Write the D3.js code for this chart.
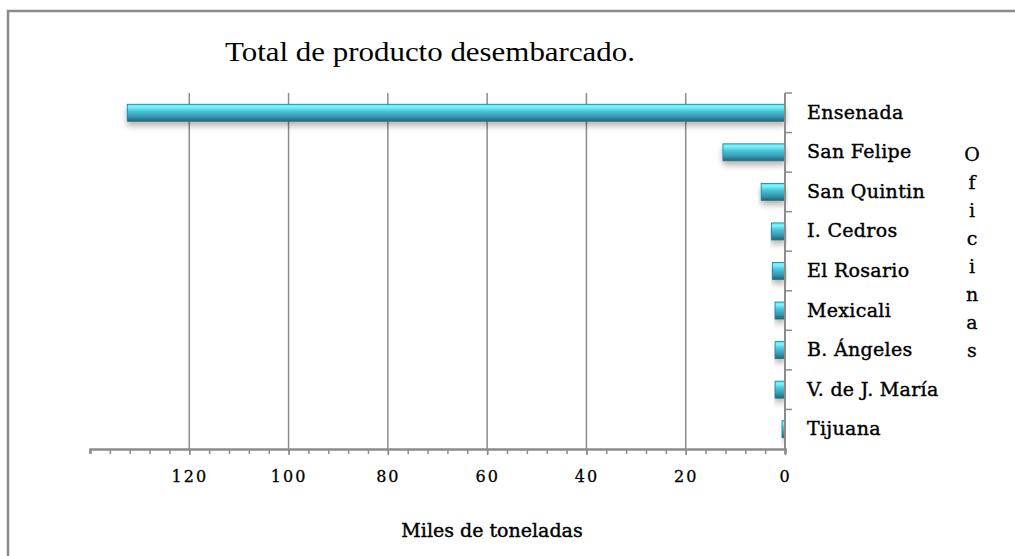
<!DOCTYPE html>
<html>
<head>
<meta charset="utf-8">
<script src="https://cdn.jsdelivr.net/npm/d3@7"></script>
<style>
  html, body { margin: 0; padding: 0; background: #fff; }
  svg { display: block; }
</style>
</head>
<body>
<div id="chart"></div>
<script>
// Total de producto desembarcado - horizontal bars, axis reversed (0 on the right)

const oficinas = ["Ensenada", "San Felipe", "San Quintin", "I. Cedros", "El Rosario",
                  "Mexicali", "B. Ángeles", "V. de J. María", "Tijuana"];
const toneladas = [132.5, 12.5, 4.8, 2.7, 2.5, 2.0, 2.0, 2.0, 0.6];
const majorTicks = [0, 20, 40, 60, 80, 100, 120];
const minorTicks = d3.range(0, 141, 4);

const width = 1015, height = 556;
const margin = { top: 93, right: 230, bottom: 107, left: 90 };
const innerWidth = width - margin.left - margin.right;
const innerHeight = height - margin.top - margin.bottom;
const serif = "'DejaVu Serif', serif";

const svg = d3.select("#chart").append("svg")
    .attr("width", width)
    .attr("height", height);

// gradient + shadow for the glossy bars
const defs = svg.append("defs");
const grad = defs.append("linearGradient")
    .attr("id", "barGrad")
    .attr("x1", 0).attr("y1", 0).attr("x2", 0).attr("y2", 1);
grad.append("stop").attr("offset", "0%").attr("stop-color", "#5fe0f2");
grad.append("stop").attr("offset", "15%").attr("stop-color", "#7af6ff");
grad.append("stop").attr("offset", "40%").attr("stop-color", "#4cc4da");
grad.append("stop").attr("offset", "75%").attr("stop-color", "#3396ad");
grad.append("stop").attr("offset", "100%").attr("stop-color", "#1f6576");

const shadow = defs.append("filter").attr("id", "shadow")
    .attr("x", "-10%").attr("y", "-30%").attr("width", "120%").attr("height", "200%");
shadow.append("feDropShadow")
    .attr("dx", 0).attr("dy", 4).attr("stdDeviation", 3)
    .attr("flood-color", "#000").attr("flood-opacity", 0.3);

// frame (right and bottom edges fall outside the picture)
svg.append("path")
    .attr("d", `M8,${height} V11 H${width}`)
    .attr("fill", "none")
    .attr("stroke", "#8a8a8a")
    .attr("stroke-width", 2.5);

const g = svg.append("g").attr("transform", `translate(${margin.left},${margin.top})`);

// scales
const x = d3.scaleLinear().domain([140, 0]).range([0, innerWidth]);
const y = d3.scaleBand().domain(oficinas).range([0, innerHeight]).paddingInner(0.57).paddingOuter(0.285);
const yb = d3.scaleBand().domain(oficinas).range([0, innerHeight]);

// vertical gridlines
g.append("g")
    .selectAll("line")
    .data(majorTicks.filter(d => d > 0))
    .join("line")
    .attr("x1", d => x(d)).attr("x2", d => x(d))
    .attr("y1", 0).attr("y2", innerHeight)
    .attr("stroke", "#8c8c8c")
    .attr("stroke-width", 1.5);

// x axis: minor ticks then major labels
g.append("g")
    .attr("transform", `translate(0,${innerHeight})`)
    .call(d3.axisBottom(x).tickValues(minorTicks).tickSize(5))
    .call(a => a.select(".domain").attr("stroke", "#8c8c8c").attr("stroke-width", 2.5))
    .call(a => a.selectAll(".tick text").remove())
    .call(a => a.selectAll(".tick line").attr("stroke", "#8c8c8c").attr("stroke-width", 1.5));

g.append("g")
    .attr("transform", `translate(0,${innerHeight})`)
    .call(d3.axisBottom(x).tickValues(majorTicks).tickSize(6).tickPadding(16))
    .call(a => a.select(".domain").remove())
    .call(a => a.selectAll(".tick line").attr("stroke", "#8c8c8c").attr("stroke-width", 1.5))
    .call(a => a.selectAll(".tick text")
        .attr("font-family", serif)
        .attr("font-size", 16)
        .attr("letter-spacing", "2px")
        .attr("stroke", "#000")
        .attr("stroke-width", 0.3)
        .attr("fill", "#000"));

// bars
g.append("g")
    .selectAll("rect")
    .data(oficinas)
    .join("rect")
    .attr("x", (d, i) => x(toneladas[i]))
    .attr("y", d => y(d))
    .attr("width", (d, i) => x(0) - x(toneladas[i]))
    .attr("height", y.bandwidth())
    .attr("fill", "url(#barGrad)")
    .attr("stroke", "#2b7486")
    .attr("stroke-width", 0.8)
    .attr("filter", "url(#shadow)");

// category axis on the right
g.append("line")
    .attr("x1", innerWidth).attr("x2", innerWidth)
    .attr("y1", 0).attr("y2", innerHeight)
    .attr("stroke", "#8c8c8c")
    .attr("stroke-width", 2);

g.append("g")
    .selectAll("line")
    .data(oficinas)
    .join("line")
    .attr("x1", innerWidth).attr("x2", innerWidth + 7)
    .attr("y1", d => yb(d)).attr("y2", d => yb(d))
    .attr("stroke", "#8c8c8c")
    .attr("stroke-width", 1.5);

g.append("g")
    .selectAll("text")
    .data(oficinas)
    .join("text")
    .attr("x", innerWidth + 22)
    .attr("y", d => yb(d) + yb.bandwidth() / 2 + 6)
    .attr("font-family", serif)
    .attr("font-size", 19)
    .attr("letter-spacing", "0.3px")
    .attr("stroke", "#000")
    .attr("stroke-width", 0.4)
    .attr("fill", "#000")
    .text(d => d);

// title
svg.append("text")
    .attr("x", 225).attr("y", 61)
    .attr("font-family", "Liberation Serif")
    .attr("font-size", 27)
    .attr("textLength", 410)
    .attr("lengthAdjust", "spacingAndGlyphs")
    .attr("fill", "#000")
    .text("Total de producto desembarcado.");

// x axis title
svg.append("text")
    .attr("x", 492).attr("y", 537)
    .attr("text-anchor", "middle")
    .attr("font-family", serif)
    .attr("font-size", 19)
    .attr("stroke", "#000")
    .attr("stroke-width", 0.4)
    .attr("fill", "#000")
    .text("Miles de toneladas");

// vertical stacked "Oficinas"
svg.append("g")
    .selectAll("text")
    .data("Oficinas".split(""))
    .join("text")
    .attr("x", 972)
    .attr("y", (d, i) => 161 + i * 28)
    .attr("text-anchor", "middle")
    .attr("font-family", serif)
    .attr("font-size", 19)
    .attr("stroke", "#000")
    .attr("stroke-width", 0.3)
    .attr("fill", "#000")
    .text(d => d);
</script>
</body>
</html>
